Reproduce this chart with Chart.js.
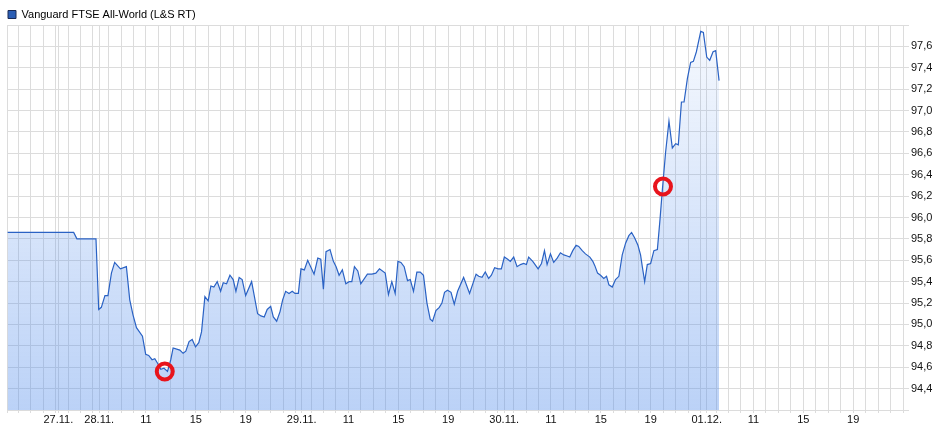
<!DOCTYPE html>
<html>
<head>
<meta charset="utf-8">
<title>Vanguard FTSE All-World (L&amp;S RT)</title>
<script src="https://cdn.jsdelivr.net/npm/chart.js"></script>
<style>
  html, body { margin: 0; padding: 0; background: #fff; }
  #wrap { width: 949px; height: 431px; }
</style>
</head>
<body>
<div id="wrap"><canvas id="chart" width="949" height="431"></canvas></div>
<script>
// Series name
const seriesName = 'Vanguard FTSE All-World (L&S RT)';

// Time axis in trading hours (nights compressed), day starts and labels
const dayLabels = ['27.11.', '28.11.', '29.11.', '30.11.', '01.12.'];
const dayStarts = [4.12, 7.40, 23.65, 39.90, 56.15];
const hourLabels = ['11', '15', '19'];
const hourValues = [11, 15, 19];
const axisMax = 71.9;

// Price points (time in trading hours, price)
const times = [
  0.05, 5.35, 5.61, 7.14, 7.36, 7.57, 7.86, 8.10, 8.38, 8.64, 9.10, 9.58, 9.85, 10.11, 10.39, 10.87,
  11.13, 11.37, 11.64, 11.86, 12.12, 12.34, 12.60, 12.88, 13.14, 13.33, 13.87, 14.13, 14.35, 14.61, 14.86,
  15.13, 15.39, 15.61, 15.88, 16.14, 16.36, 16.60, 16.87, 17.14, 17.35, 17.62, 17.89, 18.15, 18.37, 18.63,
  18.87, 19.15, 19.63, 20.11, 20.38, 20.64, 20.88, 21.16, 21.37, 21.64, 21.91, 22.12, 22.36, 22.63, 22.89,
  23.11, 23.38, 23.59, 23.86, 24.13, 24.64, 24.94, 25.18, 25.39, 25.60, 25.92, 26.19, 26.41, 26.65, 26.91,
  27.19, 27.45, 27.67, 27.88, 28.15, 28.39, 28.92, 29.28, 29.60, 29.89, 30.35, 30.61, 30.88, 31.15, 31.37,
  31.61, 31.87, 32.14, 32.36, 32.62, 32.89, 33.16, 33.42, 33.70, 33.96, 34.15, 34.42, 34.69, 34.90, 35.11,
  35.35, 35.63, 35.89, 36.16, 36.64, 37.12, 37.64, 37.85, 38.12, 38.38, 38.65, 38.87, 39.13, 39.41, 39.67,
  39.91, 40.18, 40.39, 40.66, 40.93, 41.20, 41.46, 41.68, 41.86, 42.19, 42.62, 42.89, 43.13, 43.34, 43.61,
  43.87, 44.15, 44.41, 44.68, 44.95, 45.16, 45.40, 45.67, 45.88, 46.16, 46.42, 46.77, 47.01, 47.17, 47.39,
  47.63, 47.89, 48.11, 48.30, 48.57, 48.83, 49.10, 49.37, 49.64, 49.90, 50.12, 50.36, 50.63, 50.84, 50.98,
  51.17, 51.38, 51.65, 51.91, 52.19, 52.40, 52.59, 52.85, 53.12, 53.39, 53.66, 53.87, 54.12, 54.33, 54.60,
  54.86, 55.08, 55.32, 55.67, 55.88, 56.15, 56.39, 56.66, 56.87, 57.14
];
const prices = [
  95.86, 95.86, 95.80, 95.80, 95.14, 95.16, 95.27, 95.27, 95.48, 95.58, 95.52, 95.54, 95.23, 95.09, 94.97, 94.89,
  94.72, 94.71, 94.67, 94.68, 94.63, 94.58, 94.59, 94.56, 94.67, 94.78, 94.76, 94.73, 94.75, 94.84, 94.86,
  94.79, 94.83, 94.93, 95.26, 95.22, 95.36, 95.35, 95.40, 95.31, 95.39, 95.38, 95.46, 95.42, 95.31, 95.44,
  95.42, 95.27, 95.40, 95.10, 95.08, 95.07, 95.14, 95.17, 95.07, 95.03, 95.12, 95.23, 95.31, 95.29, 95.31,
  95.29, 95.29, 95.52, 95.51, 95.60, 95.47, 95.62, 95.61, 95.33, 95.68, 95.70, 95.59, 95.54, 95.46, 95.51,
  95.38, 95.40, 95.40, 95.54, 95.50, 95.38, 95.47, 95.47, 95.48, 95.52, 95.48, 95.28, 95.40, 95.29, 95.59,
  95.58, 95.54, 95.41, 95.42, 95.31, 95.49, 95.49, 95.46, 95.20, 95.05, 95.03, 95.13, 95.16, 95.20, 95.30,
  95.32, 95.30, 95.19, 95.31, 95.44, 95.29, 95.47, 95.45, 95.44, 95.49, 95.43, 95.46, 95.53, 95.52, 95.52,
  95.63, 95.61, 95.59, 95.63, 95.54, 95.56, 95.57, 95.56, 95.63, 95.59, 95.52, 95.57, 95.69, 95.56, 95.66,
  95.58, 95.62, 95.67, 95.65, 95.64, 95.63, 95.69, 95.74, 95.73, 95.69, 95.66, 95.63, 95.59, 95.55, 95.48,
  95.46, 95.43, 95.45, 95.37, 95.35, 95.42, 95.45, 95.65, 95.76, 95.83, 95.86, 95.81, 95.74, 95.65, 95.54,
  95.40, 95.56, 95.57, 95.69, 95.70, 95.98, 96.26, 96.61, 96.90, 96.65, 96.69, 96.68, 97.08, 97.08, 97.30,
  97.45, 97.46, 97.55, 97.74, 97.73, 97.50, 97.47, 97.55, 97.56, 97.28
];

// Marked points (red rings)
const signalTimes = [12.66, 52.64];
const signalPrices = [94.56, 96.29];

// Price axis
const yMin = 94.2;
const yMax = 97.8;
const yStep = 0.2;

const font = { family: "'Liberation Sans', Arial, sans-serif", size: 11 };
const gridColor = '#dcdcdc';

// Build x ticks: hourly grid per day, day labels, hour labels
function buildXTicks() {
  var ticks = [{ value: 0, label: '' }, { value: axisMax, label: '' }];
  dayStarts.forEach(function (start, i) {
    ticks.push({ value: start, label: dayLabels[i] });
  });
  // regular days (from 28.11.), plus the hours before the first full day
  var fullDays = dayStarts.slice(1);
  var starts = [fullDays[0] - (fullDays[1] - fullDays[0])].concat(fullDays);
  starts.forEach(function (start) {
    for (var h = 8; h <= 23; h++) {
      var v = start + h - 7.25;
      if (v <= 0.2 || v >= axisMax - 0.2) continue;
      var idx = hourValues.indexOf(h);
      var label = (idx >= 0 && start > 0) ? hourLabels[idx] : '';
      ticks.push({ value: v, label: label });
    }
  });
  ticks.sort(function (a, b) { return a.value - b.value; });
  return ticks;
}
const xTicks = buildXTicks();

// Fix legend height so the plot starts where it should
const legendHeight = {
  id: 'legendHeight',
  beforeInit(chart) {
    const fit = chart.legend.fit;
    chart.legend.fit = function () {
      fit.call(this);
      this.height = 17;
    };
  }
};

const ctx = document.getElementById('chart').getContext('2d');
new Chart(ctx, {
  type: 'line',
  data: {
    datasets: [{
      label: seriesName,
      order: 1,
      data: times.map((t, i) => ({ x: t, y: prices[i] })),
      borderColor: '#2a62c4',
      borderWidth: 1.2,
      pointRadius: 0,
      tension: 0,
      fill: 'start',
      backgroundColor: function (c) {
        const area = c.chart.chartArea;
        if (!area) return 'rgba(85,142,235,0.25)';
        const g = c.chart.ctx.createLinearGradient(0, area.top, 0, area.bottom);
        g.addColorStop(0, 'rgba(85,142,235,0.05)');
        g.addColorStop(1, 'rgba(85,142,235,0.40)');
        return g;
      }
    }, {
      label: 'signals',
      order: 0,
      type: 'scatter',
      data: signalTimes.map((t, i) => ({ x: t, y: signalPrices[i] })),
      pointRadius: 8,
      pointBorderWidth: 4,
      pointBorderColor: '#e8141c',
      pointBackgroundColor: 'rgba(0,0,0,0)',
      showLine: false
    }]
  },
  options: {
    responsive: false,
    animation: false,
    events: [],
    layout: { autoPadding: false, padding: { top: 8, left: 7, right: 0, bottom: 0 } },
    plugins: {
      tooltip: { enabled: false },
      legend: {
        position: 'top',
        align: 'start',
        labels: {
          boxWidth: 8,
          boxHeight: 8,
          padding: 1,
          color: '#111',
          font: font,
          generateLabels: () => [{
            text: seriesName,
            fillStyle: '#2b5eb5',
            strokeStyle: '#1a2a55',
            lineWidth: 1,
            hidden: false,
            datasetIndex: 0
          }]
        }
      }
    },
    scales: {
      x: {
        type: 'linear',
        min: 0,
        max: axisMax,
        afterBuildTicks: s => { s.ticks = xTicks.map(t => ({ value: t.value })); },
        afterFit: s => { s.height = 21; },
        ticks: {
          autoSkip: false,
          maxRotation: 0,
          minRotation: 0,
          padding: 0,
          color: '#111',
          font: font,
          callback: (v, i) => xTicks[i].label
        },
        grid: { color: gridColor, lineWidth: 1, tickLength: 3 },
        border: { color: gridColor }
      },
      y: {
        position: 'right',
        min: yMin,
        max: yMax,
        afterFit: s => { s.width = 46; },
        ticks: {
          stepSize: yStep,
          padding: 2,
          color: '#111',
          font: font,
          callback: (v, i, arr) => (i === 0 || i === arr.length - 1) ? '' : v.toFixed(1).replace('.', ',')
        },
        grid: { color: gridColor, lineWidth: 1, tickLength: 6 },
        border: { color: gridColor }
      }
    }
  },
  plugins: [legendHeight]
});
</script>
</body>
</html>
